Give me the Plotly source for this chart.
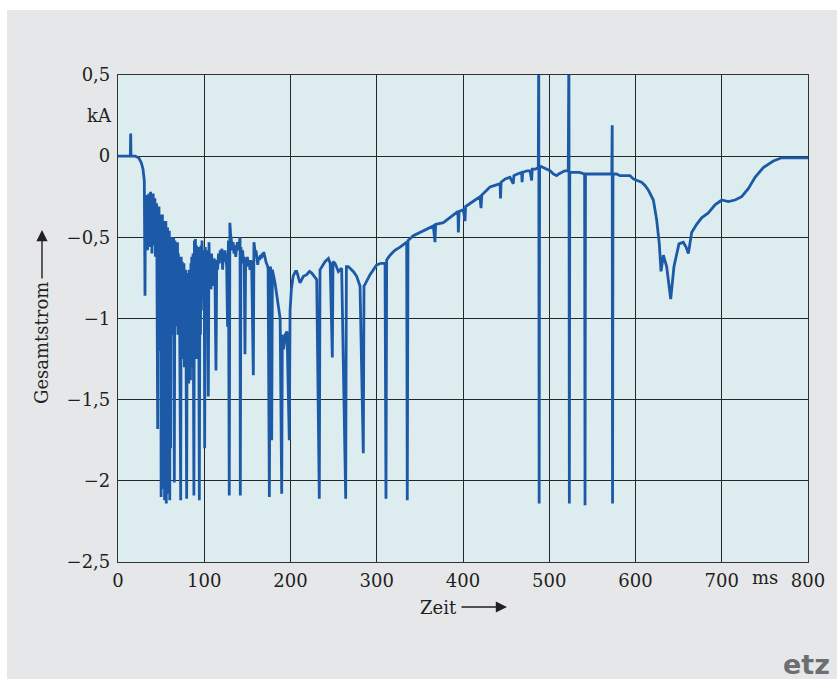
import plotly.graph_objects as go

# time (ms) and total current (kA)
t_ms = [0, 10, 14.3, 14.7, 15.1, 20, 24, 27, 29, 30.5,
        31.3, 31.8, 32.3, 32.8, 33.3, 33.8, 34.3, 34.8, 35.3, 35.8, 36.3, 36.8, 37.3, 37.8, 38.3, 38.8, 39.3, 39.8,
        40.3, 40.8, 41.3, 41.8, 42.3, 42.8, 43.3, 43.8, 44.3, 44.8, 45.3, 46, 46.5, 47, 47.5, 48, 48.5, 49, 49.5,
        50, 50.5, 51, 51.5, 52, 52.5, 53, 53.5, 54, 54.5, 55, 55.5, 56, 56.5, 57, 57.5, 58, 58.5, 59, 59.5,
        60, 60.5, 61, 61.5, 62, 62.5, 63, 63.5, 64, 64.5, 65.3, 66, 66.5, 67, 67.5, 68, 68.5, 69, 69.5,
        70, 70.5, 71, 71.8, 72.7, 73.3, 74, 74.5, 75, 75.5, 76, 76.5, 77, 77.5, 78, 78.5, 79.6,
        80.3, 81, 81.5, 82, 82.5, 83, 83.5, 84, 84.5, 85, 85.5, 86.3, 87, 88, 88.6, 89.2, 89.8,
        90.4, 91, 91.6, 92.2, 92.8, 93.4, 94.3, 95, 95.6, 96.2, 96.8, 97.4, 98, 98.6, 99.3,
        100, 100.5, 101.2, 101.8, 102.4, 103, 103.6, 104.7, 105.5, 106.2, 107, 107.8, 108.5, 109.3,
        110, 110.8, 111.5, 112.3, 113.6, 114.5, 115.5, 116.5, 117.5, 118.5, 119.5,
        120.5, 121.3, 122, 123, 124, 125, 126, 127, 128, 129, 129.7,
        130.5, 131.5, 132.5, 133.5, 134.5, 135.5, 136.5, 137.5, 138.5, 139.5,
        140.5, 141.5, 141.8, 142.5, 143.5, 144.5, 145.5, 146.3, 147.2, 148, 149,
        150, 151, 152, 153, 154, 155, 156.9, 157.6, 158.4, 159.2,
        160, 161, 162, 163, 164, 165, 166, 167, 168, 169,
        170, 171, 172, 173, 174, 175.5, 176.5, 177.3, 178.2, 179,
        182, 185, 188, 189.8, 190.5, 192, 194, 196, 198.6, 199.5,
        201, 203, 205.7, 207.2, 211, 215, 218.8, 222, 224.6, 230.4, 233.4,
        234.2, 236.2, 240, 243.9, 246, 248.5, 249.3, 251.6, 255.5, 259.3, 264, 264.8, 267, 272.8, 276.7, 280.6, 284.4, 285.2, 286.4, 292.2,
        299.9, 305, 309.6, 310.7, 311.5, 315.4, 321, 327, 334.7, 335.4, 336.2, 342.4, 350.1, 357.9, 365.6, 367.5, 368.3, 377.2, 386.9, 394.2,
        394.6, 395.4, 400.4, 402.3, 403, 408, 414, 419.7, 420.9, 421.8, 431.3, 437, 443, 443.5, 444.2, 449, 454.5, 458.3, 459, 463,
        468, 468.5, 469.2, 474, 477.7, 479.6, 480.3, 484, 487.3, 487.8, 488.3, 488.8, 493, 497, 500.9, 505, 508.6, 511, 514.4, 518,
        522, 522.8, 523.3, 523.8, 528, 535, 541, 541.5, 542, 550, 558.8, 572.5, 573, 573.4, 573.9, 578, 582, 593.6, 597.5, 602,
        607, 611, 615, 620.7, 624.5, 627.6, 629.6, 632.3, 636.1, 640.8, 644.6, 650.4, 655.4, 658.6, 661.3, 665.1, 670.9, 676.7, 684.4, 692.2,
        700, 707.6, 715.4, 723.1, 730.8, 738.6, 748.2, 759.8, 769.5, 800]
current_kA = [0, 0, 0, 0.14, 0, 0, -0.01, -0.04, -0.08, -0.15,
              -0.86, -0.32, -0.55, -0.26, -0.48, -0.24, -0.58, -0.27, -0.50, -0.23, -0.56, -0.25, -0.46, -0.22, -0.52, -0.27, -0.60, -0.25,
              -0.49, -0.23, -0.55, -0.28, -0.50, -0.26, -0.62, -0.30, -0.54, -0.29, -0.70, -1.68, -0.33, -0.65, -0.31, -0.80, -0.36, -1.20, -0.38,
              -2.10, -0.40, -1.60, -0.36, -2.05, -0.42, -1.40, -0.40, -2.12, -0.45, -1.90, -0.40, -2.14, -0.48, -1.70, -0.44, -2.08, -0.50, -1.50, -0.46,
              -2.12, -0.52, -1.80, -0.55, -1.10, -0.50, -0.95, -0.55, -0.80, -0.50, -2.01, -0.52, -0.90, -0.55, -1.05, -0.58, -0.85, -0.53, -1.10,
              -0.60, -0.95, -0.62, -1.15, -2.12, -0.62, -1.05, -0.65, -1.25, -0.68, -0.95, -0.66, -1.30, -0.72, -1.00, -0.70, -2.11,
              -0.72, -1.25, -0.75, -1.40, -0.70, -1.10, -0.74, -1.38, -0.66, -1.15, -0.62, -1.30, -0.60, -2.09, -0.52, -0.95, -0.51,
              -1.05, -0.55, -1.25, -0.60, -0.90, -0.56, -2.12, -0.62, -1.10, -0.55, -0.85, -0.52, -0.78, -0.58, -0.95,
              -0.60, -1.80, -0.56, -0.88, -0.62, -0.95, -0.58, -1.48, -0.53, -0.75, -0.62, -0.82, -0.60, -0.72,
              -0.66, -0.80, -0.63, -0.70, -1.32, -0.64, -0.70, -0.60, -0.66, -0.58, -0.64,
              -0.57, -0.70, -0.60, -0.65, -0.58, -0.63, -0.68, -1.05, -0.52, -2.09, -0.41,
              -0.48, -0.52, -0.58, -0.53, -0.60, -0.55, -0.62, -0.56, -0.53, -0.58,
              -0.51, -0.50, -2.09, -0.56, -0.62, -0.58, -0.66, -0.62, -1.22, -0.63, -0.67,
              -0.62, -0.68, -0.64, -0.70, -0.64, -0.68, -1.35, -0.53, -0.56, -0.60,
              -0.58, -0.65, -0.67, -0.62, -0.64, -0.61, -0.63, -0.60, -0.62, -0.59,
              -0.62, -0.64, -0.66, -0.67, -0.69, -2.10, -0.68, -0.70, -1.75, -0.70,
              -0.78, -0.88, -1.00, -2.08, -1.10, -1.19, -1.10, -1.08, -1.75, -0.95,
              -0.82, -0.74, -0.71, -0.71, -0.78, -0.74, -0.73, -0.71, -0.72, -0.76, -2.11,
              -0.70, -0.68, -0.65, -0.63, -0.66, -1.24, -0.65, -0.66, -0.71, -0.69, -2.11, -0.68, -0.68, -0.71, -0.74, -0.80, -1.83, -0.80, -0.79, -0.73,
              -0.67, -0.66, -0.66, -2.11, -0.64, -0.61, -0.58, -0.56, -0.53, -2.12, -0.52, -0.49, -0.47, -0.45, -0.43, -0.53, -0.42, -0.41, -0.37, -0.34,
              -0.47, -0.34, -0.33, -0.40, -0.31, -0.29, -0.27, -0.25, -0.32, -0.24, -0.19, -0.18, -0.17, -0.26, -0.16, -0.14, -0.13, -0.17, -0.12, -0.11,
              -0.10, -0.16, -0.10, -0.09, -0.09, -0.15, -0.08, -0.08, -0.07, 0.70, -2.14, -0.06, -0.07, -0.08, -0.09, -0.11, -0.12, -0.11, -0.10, -0.09,
              -0.09, 0.70, -2.14, -0.10, -0.10, -0.10, -0.11, -2.15, -0.11, -0.11, -0.11, -0.11, 0.19, -2.14, -0.11, -0.11, -0.12, -0.12, -0.14, -0.15,
              -0.16, -0.18, -0.21, -0.27, -0.39, -0.54, -0.71, -0.61, -0.68, -0.88, -0.68, -0.54, -0.53, -0.56, -0.60, -0.47, -0.42, -0.38, -0.35, -0.30,
              -0.27, -0.28, -0.27, -0.25, -0.20, -0.13, -0.07, -0.03, -0.01, -0.01]

x_ticks = [0, 100, 200, 300, 400, 500, 600, 700, 800]
x_tick_text = ["0", "100", "200", "300", "400", "500", "600", "700", "800"]
y_ticks = [-2.5, -2, -1.5, -1, -0.5, 0, 0.5]
y_tick_text = ["\u22122,5", "\u22122", "\u22121,5", "\u22121", "\u22120,5", "0", "0,5"]

W, H = 837, 679
L, R, T, B = 118, 29, 75, 117
pw, ph = W - L - R, H - T - B


def px(x):
    return (x - L) / pw


def py(y):
    return (H - B - y) / ph


font_serif = "DejaVu Serif"
line_blue = "#1c5aa8"

fig = go.Figure()
fig.add_trace(go.Scatter(x=t_ms, y=current_kA, mode="lines",
                         line=dict(color=line_blue, width=2.8),
                         hoverinfo="skip", showlegend=False))

axis_common = dict(showgrid=True, gridcolor="#262626", gridwidth=1,
                   zeroline=False, showline=True, linecolor="#333333",
                   linewidth=1.2, mirror=True, ticks="",
                   tickfont=dict(family=font_serif, size=18, color="#231f20"))

fig.update_xaxes(range=[0, 800], tickmode="array", tickvals=x_ticks,
                 ticktext=x_tick_text, ticklabelstandoff=2, **axis_common)
fig.update_yaxes(range=[-2.5, 0.5], tickmode="array", tickvals=y_ticks,
                 ticktext=y_tick_text, ticklabelstandoff=3, **axis_common)

shapes = [
    dict(type="rect", xref="paper", yref="paper", x0=px(7), x1=px(W + 5),
         y0=py(H + 5), y1=py(10), fillcolor="#e6e7e9", line=dict(width=0),
         layer="below"),
    dict(type="rect", xref="x", yref="y", x0=0, x1=800, y0=-2.5, y1=0.5,
         fillcolor="#ddedef", line=dict(width=0), layer="below"),
]

annotations = [
    dict(text="kA", xref="paper", yref="y", x=0, y=0.25, xanchor="right",
         yanchor="middle", xshift=-4, showarrow=False,
         font=dict(family=font_serif, size=18, color="#231f20")),
    dict(text="ms", xref="x", yref="paper", x=750, y=0, xanchor="center",
         yanchor="top", yshift=-3, showarrow=False,
         font=dict(family=font_serif, size=18, color="#231f20")),
    dict(text="Zeit", xref="paper", yref="paper", x=px(438), y=py(607),
         xanchor="center", yanchor="middle", showarrow=False,
         font=dict(family=font_serif, size=18, color="#231f20")),
    dict(text="", xref="paper", yref="paper", x=px(507), y=py(607),
         ax=-47, ay=0, showarrow=True, arrowhead=2, arrowsize=1.6,
         arrowwidth=1.4, arrowcolor="#231f20"),
    dict(text="Gesamtstrom", xref="paper", yref="paper", x=px(42), y=py(343),
         xanchor="center", yanchor="middle", textangle=-90, showarrow=False,
         font=dict(family=font_serif, size=18, color="#231f20")),
    dict(text="", xref="paper", yref="paper", x=px(42), y=py(230),
         ax=0, ay=50, showarrow=True, arrowhead=2, arrowsize=1.6,
         arrowwidth=1.4, arrowcolor="#231f20"),
    dict(text="<b>etz</b>", xref="paper", yref="paper", x=px(832), y=py(682),
         xanchor="right", yanchor="bottom", showarrow=False,
         font=dict(family="DejaVu Sans", size=27, color="#6d6e71")),
]

fig.update_layout(width=W, height=H, margin=dict(l=L, r=R, t=T, b=B),
                  paper_bgcolor="#ffffff", plot_bgcolor="rgba(0,0,0,0)",
                  shapes=shapes, annotations=annotations, showlegend=False)

fig.write_html("out.html")
